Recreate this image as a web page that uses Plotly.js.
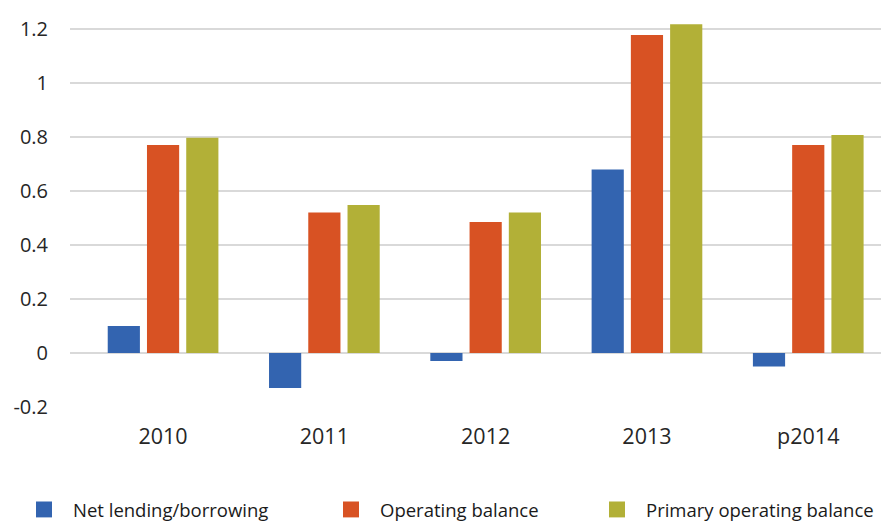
<!DOCTYPE html>
<html>
<head>
<meta charset="utf-8">
<script src="https://cdn.plot.ly/plotly-3.0.1.min.js"></script>
<style>html,body{margin:0;padding:0;background:#fff;}#chart{width:881px;height:524px;}</style>
</head>
<body>
<div id="chart"></div>
<script>
const categories = ["2010", "2011", "2012", "2013", "p2014"];
const netLending = [0.10, -0.13, -0.03, 0.68, -0.05];
const operatingBalance = [0.77, 0.52, 0.485, 1.178, 0.77];
const primaryOperatingBalance = [0.797, 0.548, 0.52, 1.218, 0.807];
const seriesNames = ["Net lending/borrowing", "Operating balance", "Primary operating balance"];
const colors = ["#3364b0", "#d85223", "#b2b037"];
const yTicks = [-0.2, 0, 0.2, 0.4, 0.6, 0.8, 1, 1.2];

const values = [netLending, operatingBalance, primaryOperatingBalance];
const legendIds = ["legend", "legend2", "legend3"];
const bars = values.map((v, i) => ({
  type: "bar",
  name: seriesNames[i],
  x: categories,
  y: v,
  marker: {color: colors[i]},
  showlegend: false,
  hoverinfo: "x+y+name"
}));
// legend-only entries (larger square swatches)
const legendEntries = seriesNames.map((n, i) => ({
  type: "scatter",
  mode: "markers",
  name: n,
  x: [null], y: [null],
  marker: {symbol: "square", size: 23, color: colors[i]},
  legend: legendIds[i],
  showlegend: true,
  hoverinfo: "skip"
}));

const legendBase = {
  orientation: "h",
  xanchor: "left",
  y: -0.254, yanchor: "middle",
  font: {family: "Open Sans, sans-serif", size: 18.5, color: "#1a1a1a"},
  itemwidth: 48,
  bgcolor: "rgba(0,0,0,0)"
};
const pw = 811, pl = 70;
const legendX = [15, 322, 588].map(px => (px - pl) / pw);

const layout = {
  width: 881, height: 524,
  margin: {l: 70, r: 0, t: 2, b: 117, autoexpand: false},
  paper_bgcolor: "#fff", plot_bgcolor: "#fff",
  barmode: "group",
  bargap: 0.27,
  bargroupgap: 0.18,
  font: {family: "Open Sans, sans-serif", color: "#262626", size: 20},
  xaxis: {
    type: "category",
    range: [-0.577, 4.451],
    showgrid: false, zeroline: false, showline: false,
    ticks: "", ticklabelstandoff: 14,
    tickfont: {size: 21.5, color: "#262626"}
  },
  yaxis: {
    range: [-0.2, 1.3],
    tickvals: yTicks,
    ticktext: yTicks.map(v => String(v)),
    showgrid: true, gridcolor: "#d9d9d9", gridwidth: 1.3,
    zeroline: true, zerolinecolor: "#d9d9d9", zerolinewidth: 1.3,
    showline: false, ticks: "", ticklabelstandoff: 21,
    tickfont: {size: 20, color: "#262626"}
  },
  showlegend: true,
  legend: Object.assign({}, legendBase, {x: legendX[0]}),
  legend2: Object.assign({}, legendBase, {x: legendX[1]}),
  legend3: Object.assign({}, legendBase, {x: legendX[2]})
};

Plotly.newPlot("chart", bars.concat(legendEntries), layout, {displayModeBar: false, staticPlot: true});
</script>
</body>
</html>
